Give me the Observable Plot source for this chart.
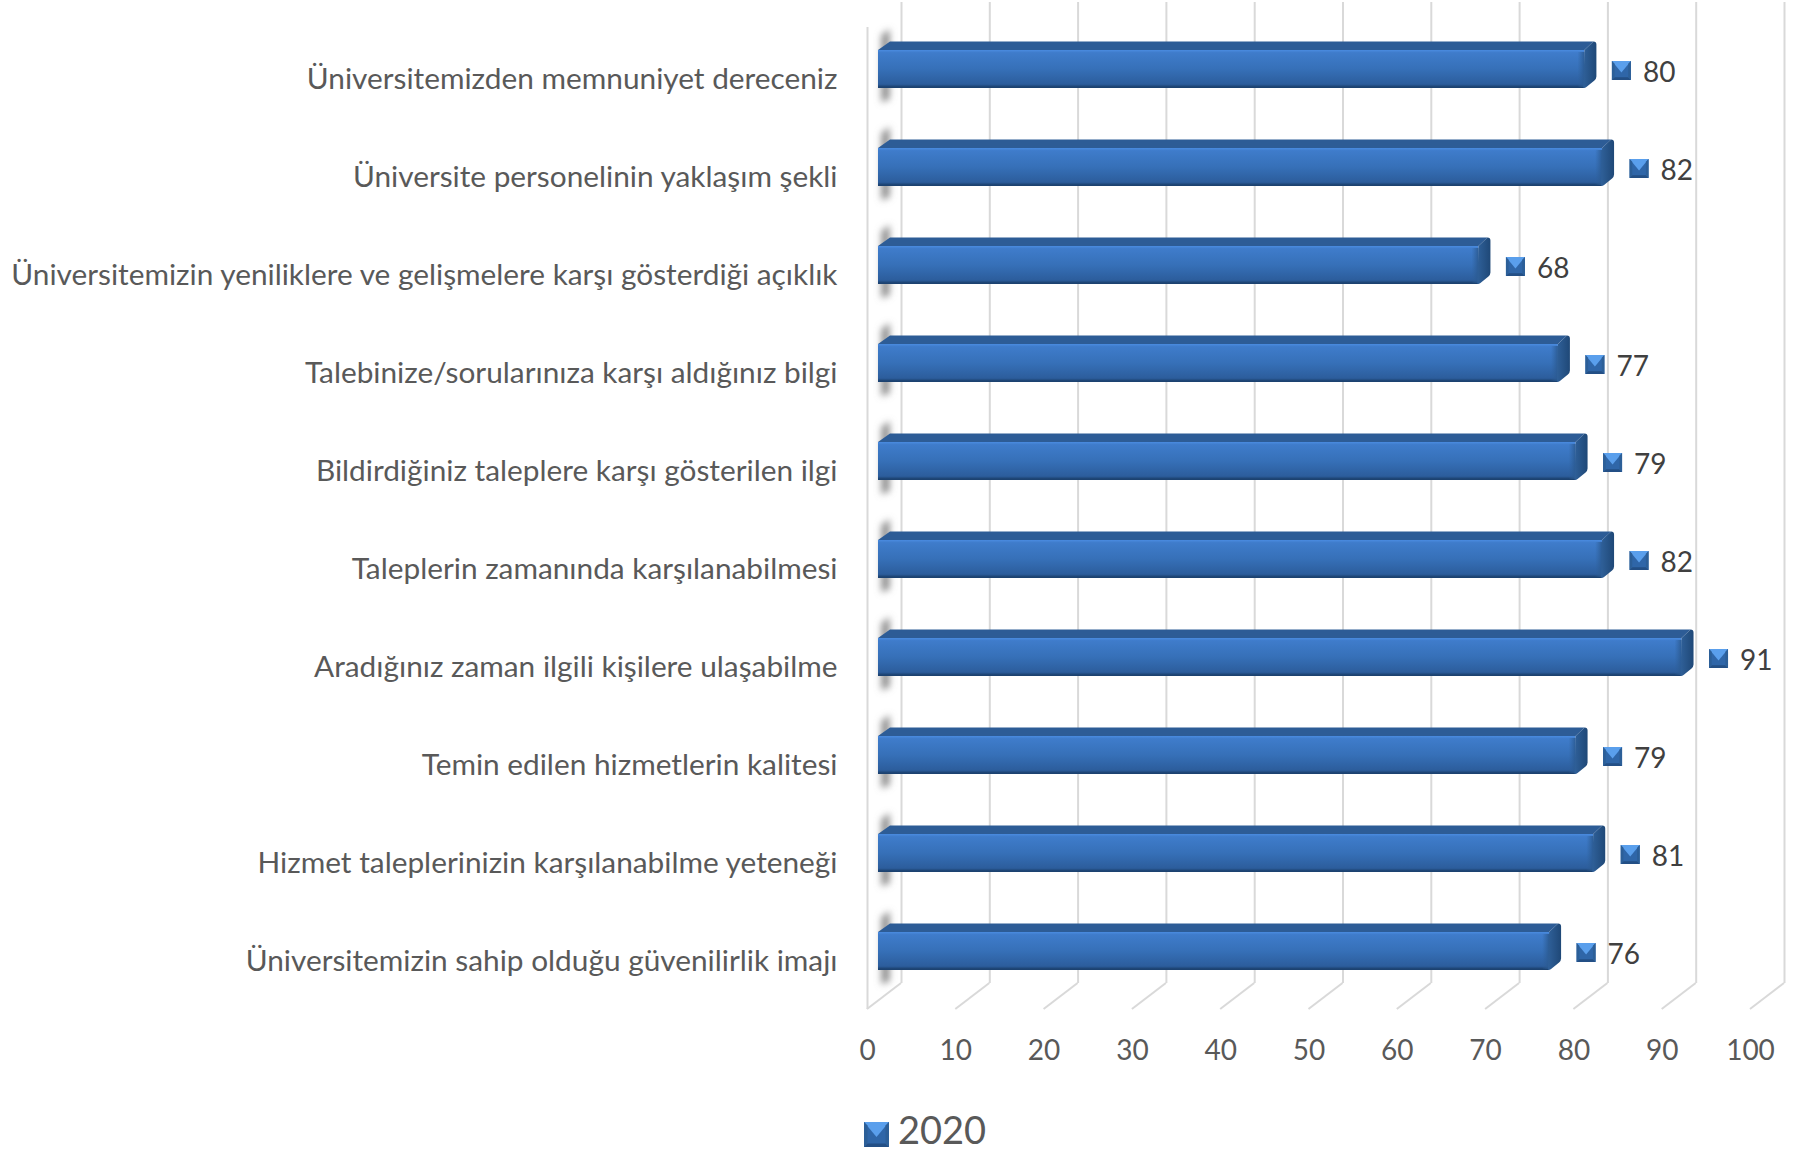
<!DOCTYPE html>
<html><head><meta charset="utf-8">
<script src="https://cdn.jsdelivr.net/npm/d3@7"></script>
<script src="https://cdn.jsdelivr.net/npm/@observablehq/plot@0.6"></script>
<style>
html,body{margin:0;padding:0;background:#fff;width:1802px;height:1149px;overflow:hidden}
svg{display:block}
#legend{position:absolute;left:864px;top:1108px;display:flex;align-items:center;font:38px Lato,sans-serif;color:#595959;line-height:42px;height:42px}
#legend span{margin-left:9px}
</style></head><body>
<div id="chart"></div>
<div id="legend"></div>
<script>
const categories = [
  "Üniversitemizden memnuniyet dereceniz",
  "Üniversite personelinin yaklaşım şekli",
  "Üniversitemizin yeniliklere ve gelişmelere karşı gösterdiği açıklık",
  "Talebinize/sorularınıza karşı aldığınız bilgi",
  "Bildirdiğiniz taleplere karşı gösterilen ilgi",
  "Taleplerin zamanında karşılanabilmesi",
  "Aradığınız zaman ilgili kişilere ulaşabilme",
  "Temin edilen hizmetlerin kalitesi",
  "Hizmet taleplerinizin karşılanabilme yeteneği",
  "Üniversitemizin sahip olduğu güvenilirlik imajı"
];
const values = [80, 82, 68, 77, 79, 82, 91, 79, 81, 76];
const xTicks = [0, 10, 20, 30, 40, 50, 60, 70, 80, 90, 100];
const seriesName = "2020";
const rows = categories.map((c, i) => ({category: c, value: values[i]}));

const SVGNS = "http://www.w3.org/2000/svg";
function el(name, attrs, parent) {
  const e = document.createElementNS(SVGNS, name);
  for (const k in attrs) e.setAttribute(k, attrs[k]);
  if (parent) parent.appendChild(e);
  return e;
}
function grad(defs, id, stops, horizontal) {
  const g = el("linearGradient", {id, x1:0, y1:0, x2: horizontal?1:0, y2: horizontal?0:1}, defs);
  stops.forEach(([o,c,a]) => el("stop", {offset:o, "stop-color":c, "stop-opacity": a == null ? 1 : a}, g));
}
const defsMark = () => {
  const defs = el("defs", {});
  grad(defs, "face", [[0,"#4a8be0"],[0.07,"#3f7ccb"],[0.5,"#3670b8"],[0.9,"#2c5d9c"],[0.97,"#1c4270"],[1,"#1c4270"]]);
  grad(defs, "side", [[0,"#2f6099"],[1,"#1f4877"]], true);
  grad(defs, "endshade", [[0,"#2f6099",0],[1,"#2a5990",0.9]], true);
  const f = el("filter", {id:"soft", x:"-300%", y:"-50%", width:"700%", height:"200%"}, defs);
  el("feGaussianBlur", {stdDeviation:3.5}, f);
  return defs;
};

const depthX = 12, depthY = 8.5, barOffset = 11;
const bw = y => typeof y.bandwidth === "function" ? y.bandwidth() : y.bandwidth;

// blurred shadow the bars throw on the back wall
const shadowMark = (_, {y}) => {
  const g = el("g", {filter:"url(#soft)"});
  for (const d of rows) {
    const t = y(d.category);
    el("path", {d:`M883,${t-14}L888,${t-18}L888,${t+48}L883,${t+50}Z`, fill:"#8a8a8a", stroke:"#8a8a8a", "stroke-width":3}, g);
  }
  return g;
};

// top and end faces of each bar, placed from the x and y scales
const facesMark = (_, {x, y}) => {
  const g = el("g", {});
  for (const d of rows) {
    const t = y(d.category), b = t + bw(y), x0 = x(0) + barOffset, x1 = x(d.value) + barOffset;
    el("rect", {x:x1-7, y:t+2, width:7, height:b-t-3, fill:"url(#endshade)"}, g);
    el("path", {d:`M${x0},${t}L${x0+depthX},${t-depthY}L${x1+depthX-3},${t-depthY}L${x1},${t}Z`, fill:"#2d5c96"}, g);
    el("path", {d:`M${x1},${t}L${x1+depthX-3},${t-depthY}Q${x1+depthX},${t-depthY} ${x1+depthX},${t-depthY+3}L${x1+depthX},${b-depthY-3}Q${x1+depthX},${b-depthY-1} ${x1+depthX-2},${b-depthY+1}L${x1+2},${b-1}Q${x1+1},${b} ${x1-1},${b}Z`, fill:"url(#side)"}, g);
  }
  return g;
};

// small bevelled legend-key markers beside the data labels
function bevel(parent, cx, cy, s) {
  const l = cx - s/2, r = cx + s/2, t = cy - s/2, b = cy + s/2, i = s * 0.14;
  el("rect", {x:l, y:t, width:s, height:s, fill:"#2f66a8"}, parent);
  el("path", {d:`M${l},${t}L${r},${t}L${cx},${cy+s*0.1}Z`, fill:"#5a9fec"}, parent);
  el("path", {d:`M${l},${b}L${r},${b}L${r-i},${b-i}L${l+i},${b-i}Z`, fill:"#234f85"}, parent);
  el("path", {d:`M${l},${t}L${l+i},${t+i}L${l+i},${b-i}L${l},${b}Z`, fill:"#2c5f98"}, parent);
  el("path", {d:`M${r},${t}L${r-i},${t+i}L${r-i},${b-i}L${r},${b}Z`, fill:"#2c5f98"}, parent);
}
const keysMark = (_, {x, y}) => {
  const g = el("g", {});
  for (const d of rows) bevel(g, x(d.value) + barOffset + 37, y(d.category) + bw(y)/2 + 1.5, 19);
  return g;
};
// foreshortened floor lines
const floorMark = (_, {x}) => {
  const g = el("g", {stroke:"#d9d9d9", "stroke-width":2, fill:"none"});
  for (const v of xTicks) el("line", {x1:x(v), y1:1009, x2:x(v)+34, y2:983}, g);
  return g;
};

const chart = Plot.plot({
  width: 1802, height: 1100,
  marginTop: 0, marginBottom: 91, marginLeft: 867, marginRight: 52,
  style: {fontFamily: "Lato, sans-serif", background: "#fff"},
  x: {domain: [0, 100]},
  y: {type: "band", domain: categories, range: [20, 1000], paddingInner: 60/98, paddingOuter: 30/98},
  marks: [
    defsMark,
    Plot.ruleX(xTicks, {x: d => d, dx: 34, insetTop: 2, insetBottom: 26, stroke: "#d9d9d9", strokeWidth: 2}),
    Plot.ruleX([0], {x: d => d, insetTop: 27, stroke: "#d9d9d9", strokeWidth: 2}),
    floorMark,
    shadowMark,
    Plot.barX(rows, {x1: () => 0, x2: "value", y: "category", dx: barOffset, fill: "url(#face)"}),
    facesMark,
    keysMark,
    Plot.text(rows, {x: "value", y: "category", text: d => String(d.value), dx: barOffset + 58, dy: 4, textAnchor: "start", fontSize: 28, fill: "#404040"}),
    Plot.axisY({tickSize: 0, tickPadding: 30, dy: 10, fontSize: 29.8, color: "#595959", label: null, lineWidth: 100, textOverflow: null}),
    Plot.axisX({ticks: xTicks, tickSize: 0, tickPadding: 31, fontSize: 28, color: "#595959", label: null, anchor: "bottom"})
  ]
});
document.getElementById("chart").appendChild(chart);

const lg = document.getElementById("legend");
const ks = el("svg", {width:25, height:25, style:"margin-top:11px;flex:none"});
bevel(ks, 12.5, 12.5, 25);
lg.appendChild(ks);
const sp = document.createElement("span"); sp.textContent = seriesName; lg.appendChild(sp);
</script>
</body></html>
